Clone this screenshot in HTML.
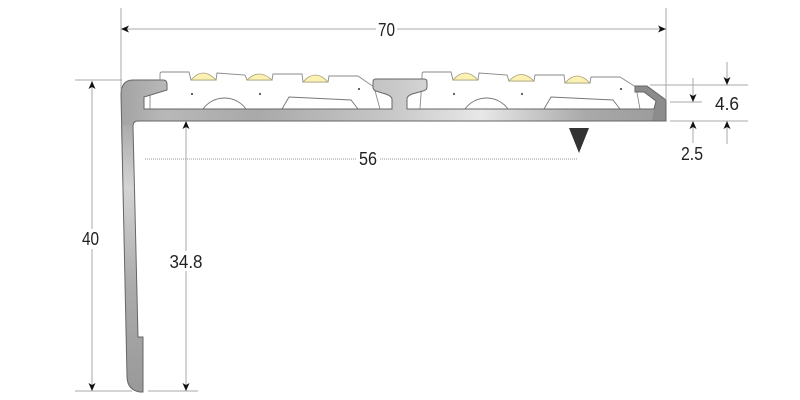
<!DOCTYPE html>
<html><head><meta charset="utf-8"><style>
html,body{margin:0;padding:0;background:#fff;}
svg{display:block;}
text{font-family:"Liberation Sans",sans-serif;font-size:18px;fill:#222;}
</style></head><body>
<svg width="800" height="400" viewBox="0 0 800 400" xmlns="http://www.w3.org/2000/svg">
<defs>
<linearGradient id="gh" gradientUnits="userSpaceOnUse" x1="121" y1="0" x2="666" y2="0">
<stop offset="0" stop-color="#a3a3a3"/>
<stop offset="0.08" stop-color="#b8b8b8"/>
<stop offset="0.25" stop-color="#a9a9a9"/>
<stop offset="0.5" stop-color="#c8c8c8"/>
<stop offset="0.66" stop-color="#e8e8e8"/>
<stop offset="0.85" stop-color="#aaaaaa"/>
<stop offset="1" stop-color="#9a9a9a"/>
</linearGradient>
<linearGradient id="gv" gradientUnits="userSpaceOnUse" x1="0" y1="120" x2="0" y2="392">
<stop offset="0" stop-color="#a8a8a8"/>
<stop offset="0.25" stop-color="#d4d4d4"/>
<stop offset="0.6" stop-color="#acacac"/>
<stop offset="1" stop-color="#999"/>
</linearGradient>
</defs>

<!-- inserts -->
<g fill="#fff" stroke="#8a8a8a" stroke-width="0.9">
<path d="M160,80 L160,74 Q160,72 162,72 L189,72 L191,80 L216,80 L217,73 L245,75 L247,80 L272,80 L273,74 L302,74 L303,82 L328,82 L329,76 L358,76 L374,87 L380,109 L150,109 L150,95 L160,90 Z"/>
<path d="M422,80 L422,74 Q422,72 424,72 L451,72 L453,80 L478,80 L479,73 L507,75 L509,81 L534,81 L535,75 L564,75 L565,83 L590,83 L591,77 L620,77 L636,87 L640,109 L420,109 Z"/>
</g>
<!-- domes -->
<g fill="#faf1b2" stroke="#a89e78" stroke-width="0.8">
<path d="M191,80 Q203,66 216,80 Z"/>
<path d="M247,80 Q259,68 272,80 Z"/>
<path d="M303,82 Q315,68 328,82 Z"/>
<path d="M453,80 Q465,66 478,80 Z"/>
<path d="M509,81 Q521,68 534,81 Z"/>
<path d="M565,83 Q577,69 590,83 Z"/>
</g>
<!-- inner features -->
<g fill="none" stroke="#777" stroke-width="0.9">
<path d="M203,109 A26.5,26.5 0 0 1 246,109"/>
<path d="M465,109 A26.5,26.5 0 0 1 508,109"/>
<path d="M282,109 L289,97 L351,100 L358,109"/>
<path d="M544,109 L551,97 L613,100 L620,109"/>
</g>
<g fill="#555">
<circle cx="192" cy="94" r="1.1"/><circle cx="260" cy="94" r="1.1"/><circle cx="359" cy="89" r="1.1"/>
<circle cx="454" cy="94" r="1.1"/><circle cx="522" cy="94" r="1.1"/><circle cx="621" cy="89" r="1.1"/>
</g>

<!-- profile -->
<path id="prof" fill="url(#gh)" stroke="none" d="M144,97 L144,109 L392,109 L392,99 Q391,95 382,93 L376,91 Q373,90 373,87 L373,82 Q373,79 376,79 L424,79 Q427,79 427,82 L427,87 Q427,90 423,91 L412,94 Q407,96 407,99 L407,109 L654,109 L656,101 L644,92 L635,92 L635,86 L647,86 L666,100 L666,121 L138,121 Q133,121 133,126 L138,337 L143,337 L143,392 L140,392 Q127,390 127,376 L121,95 Q121,80 133,80 L163,80 Q167,80 167,84 L167,90 Z"/>
<path fill="url(#gv)" d="M121,125 L133,125 L138,337 L143,337 L143,392 L140,392 Q127,390 127,376 Z"/>
<path fill="#8c8c8c" d="M635,86 L647,86 L666,100 L666,121 L652,121 L654,109 L656,101 L644,92 L635,92 Z"/>
<path fill="none" stroke="#666" stroke-width="1" d="M144,97 L144,109 L392,109 L392,99 Q391,95 382,93 L376,91 Q373,90 373,87 L373,82 Q373,79 376,79 L424,79 Q427,79 427,82 L427,87 Q427,90 423,91 L412,94 Q407,96 407,99 L407,109 L654,109 L656,101 L644,92 L635,92 L635,86 L647,86 L666,100 L666,121 L138,121 Q133,121 133,126 L138,337 L143,337 L143,392 L140,392 Q127,390 127,376 L121,95 Q121,80 133,80 L163,80 Q167,80 167,84 L167,90 Z"/>

<!-- dimension lines -->
<g stroke="#a8a8a8" stroke-width="1" fill="none">
<path d="M121,8 L121,90 M666,8 L666,100"/>
<path d="M121,29 L376,29 M397,29 L666,29"/>
<path d="M75,80 L122,80 M75,391 L132,391 M148,391 L198,391"/>
<path d="M92,81 L92,229 M92,249 L92,391"/>
<path d="M186,121 L186,251 M186,271 L186,391"/>
<path d="M650,85 L748,85 M670,102 L702,102 M670,121 L748,121"/>
<path d="M693,78 L693,102 M693,121 L693,143"/>
<path d="M727,62 L727,85 M727,121 L727,144"/>
</g>
<path d="M145,159 L357,159 M380,159 L578,159" stroke="#999" stroke-width="1" stroke-dasharray="1 1" fill="none"/>

<!-- arrowheads -->
<g fill="#111">
<path d="M121,29 L129,25.5 L127,29 L129,32.5 Z"/>
<path d="M666,29 L658,25.5 L660,29 L658,32.5 Z"/>
<path d="M92,81 L88.5,89 L92,87 L95.5,89 Z"/>
<path d="M92,391 L88.5,383 L92,385 L95.5,383 Z"/>
<path d="M186,121 L182.5,129 L186,127 L189.5,129 Z"/>
<path d="M186,391 L182.5,383 L186,385 L189.5,383 Z"/>
<path d="M693,102 L689.5,94 L693,96 L696.5,94 Z"/>
<path d="M693,121 L689.5,129 L693,127 L696.5,129 Z"/>
<path d="M727,85 L723.5,77 L727,79 L730.5,77 Z"/>
<path d="M727,121 L723.5,129 L727,127 L730.5,129 Z"/>
</g>
<path d="M569,128 L589,128 L579,153 Z" fill="#333"/>

<!-- labels -->
<text x="386.5" y="36" text-anchor="middle" textLength="17" lengthAdjust="spacingAndGlyphs">70</text>
<text x="90.5" y="245" text-anchor="middle" textLength="17" lengthAdjust="spacingAndGlyphs">40</text>
<text x="186" y="268" text-anchor="middle" textLength="33" lengthAdjust="spacingAndGlyphs">34.8</text>
<text x="368" y="165" text-anchor="middle" textLength="18" lengthAdjust="spacingAndGlyphs">56</text>
<text x="727" y="110" text-anchor="middle" textLength="24" lengthAdjust="spacingAndGlyphs">4.6</text>
<text x="692" y="160" text-anchor="middle" textLength="22" lengthAdjust="spacingAndGlyphs">2.5</text>
</svg>
</body></html>
